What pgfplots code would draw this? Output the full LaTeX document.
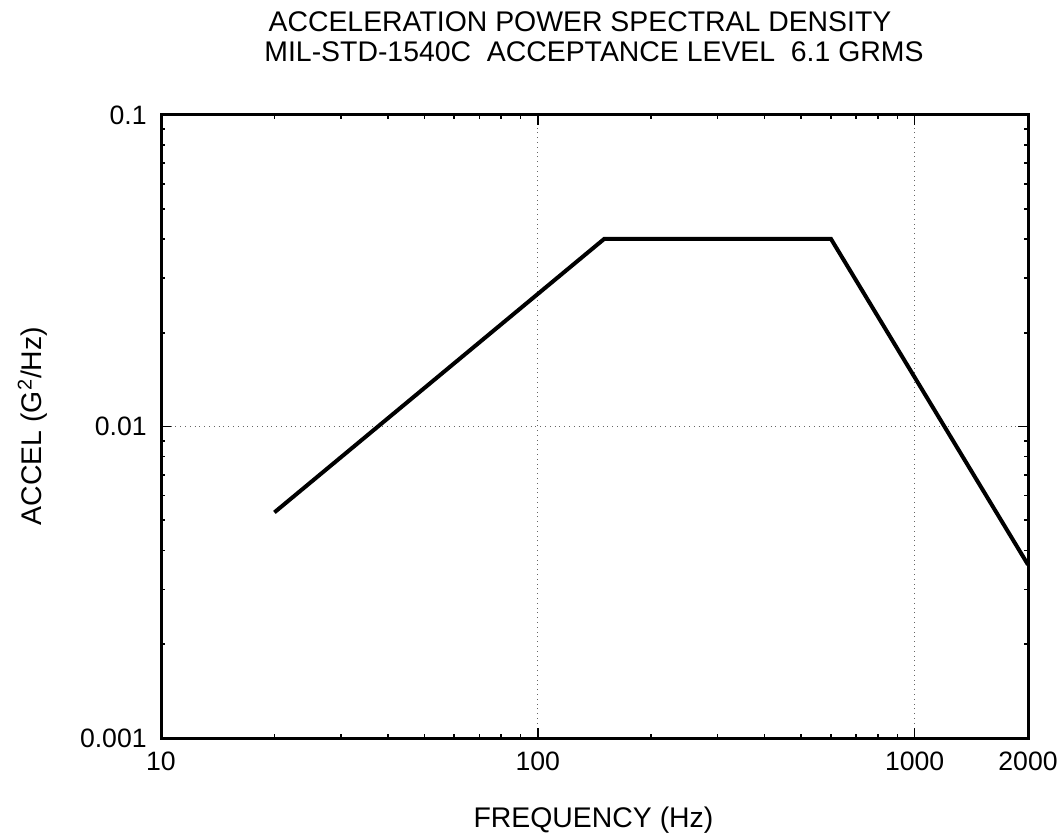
\documentclass[border=0pt]{standalone}
\usepackage{fontspec}
\setmainfont{Liberation Sans}
\usepackage{pgfplots}
\pgfplotsset{compat=1.18}

\begin{document}
\begin{tikzpicture}
\begin{axis}[
  name=ax,
  at={(0,0)}, anchor=south west,
  scale only axis,
  width=433.5pt, height=311.5pt,
  xmode=log, ymode=log,
  xmin=10, xmax=2000, ymin=0.001, ymax=0.1,
  xtick={10,100,1000,2000},
  xticklabels={10,100,1000,2000},
  ytick={0.001,0.01,0.1},
  yticklabels={0.001,0.01,0.1},
  minor xtick={20,30,40,50,60,70,80,90,200,300,400,500,600,700,800,900},
  minor ytick={0.002,0.003,0.004,0.005,0.006,0.007,0.008,0.009,0.02,0.03,0.04,0.05,0.06,0.07,0.08,0.09},
  tick align=inside,
  major tick length=5pt,
  minor tick length=2pt,
  tick style={black, line width=0.8pt},
  axis line style={black, line width=1.5pt},
  grid=major,
  major grid style={black!60, dotted, line width=0.6pt},
  /pgf/number format/assume math mode=true,
  ticklabel style={font=\fontsize{13.3}{16}\selectfont, inner sep=0pt},
  xticklabel style={yshift=-7pt},
  yticklabel style={xshift=-7pt},
]
% MIL-STD-1540C acceptance profile
\addplot[black, line width=2pt] coordinates {
  (20, 0.0053)
  (150, 0.04)
  (600, 0.04)
  (2000, 0.0036)
};
\end{axis}
\begin{scope}[every node/.style={font=\fontsize{14.2}{17}\selectfont, inner sep=0pt}]
  \node[anchor=base] at (209.5pt,353pt) {ACCELERATION POWER SPECTRAL DENSITY};
  \node[anchor=base] at (216.5pt,338pt) {MIL-STD-1540C\ \ ACCEPTANCE LEVEL\ \ 6.1 GRMS};
  \node[anchor=base] at (216.25pt,-45pt) {FREQUENCY (Hz)};
  \node[anchor=base, rotate=90] at (-59.5pt,156pt) {ACCEL (G\textsuperscript{2}/Hz)};
\end{scope}
\pgfresetboundingbox
\path (-80.5pt,-48.5pt) rectangle (450pt,369pt);
\end{tikzpicture}
\end{document}
